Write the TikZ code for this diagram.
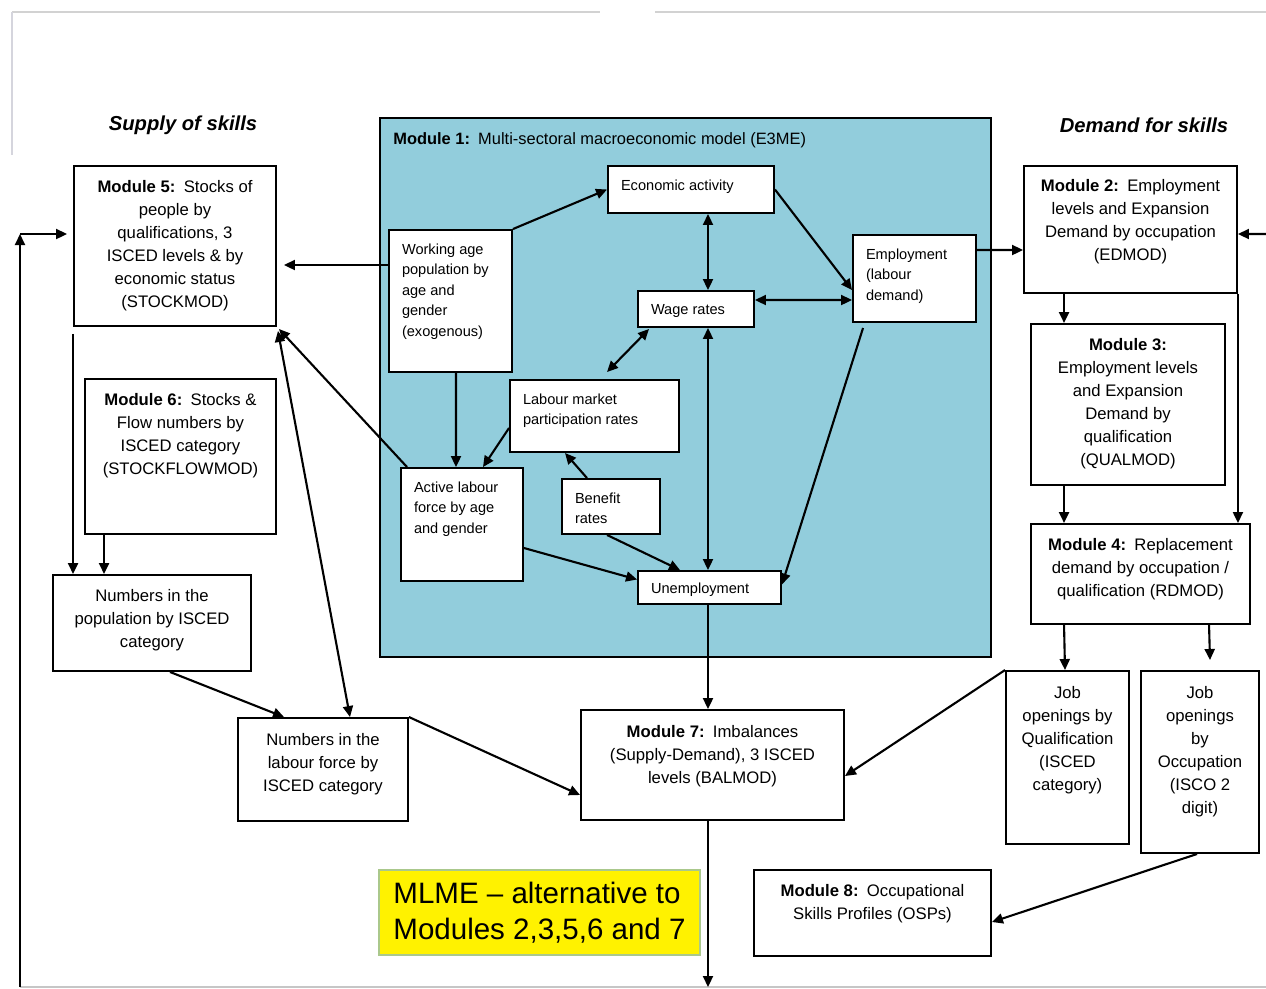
\documentclass[tikz,border=0pt]{standalone}
\usepackage{fontspec}
\setmainfont{Liberation Sans}
\usetikzlibrary{arrows.meta}

\newlength\pxu
\setlength\pxu{0.2mm}
% box text: text width (px), box height (px), top gap (px), content
\newcommand{\boxtxt}[4]{\begin{minipage}[c][#2\pxu][t]{#1\pxu}\vspace*{#3\pxu}#4\end{minipage}}

\definecolor{e3meblue}{RGB}{146,205,220}
\definecolor{mlmeedge}{RGB}{170,200,140}

\begin{document}
\begin{tikzpicture}[
  x=0.2mm, y=-0.2mm,
  mod/.style={draw, line width=1.1pt, fill=white, inner xsep=1.6mm, inner ysep=0pt, font=\fontsize{9.5}{13.1}\selectfont},
  sub/.style={draw, line width=1.1pt, fill=white, inner xsep=2.6mm, inner ysep=0pt, font=\fontsize{8.3}{11.7}\selectfont},
  frame/.style={draw, line width=1.3pt, fill=e3meblue, inner sep=0pt},
  side/.style={font=\fontsize{11.5}{14}\selectfont\bfseries\itshape},
  note/.style={draw=mlmeedge, line width=1.2pt, fill=yellow, inner sep=0pt, align=left, minimum width=64.2mm, minimum height=17mm, font=\fontsize{16.8}{20.5}\selectfont},
  arr/.style={-{Triangle[length=2.2mm, width=2mm]}, line width=1.2pt},
  darr/.style={{Triangle[length=2.2mm, width=2mm]}-{Triangle[length=2.2mm, width=2mm]}, line width=1.2pt}
]
\useasboundingbox (0,0) rectangle (1266,988);

% --- slide border ---
\draw[gray!35, line width=0.8pt] (12,12) -- (600,12);
\draw[gray!35, line width=0.8pt] (655,12) -- (1266,12);
\draw[blue!10!gray!30, line width=1pt] (12,12) -- (12,155);
\draw[gray!45, line width=0.8pt] (20,987) -- (1266,987);

% --- headings ---
\node[side] (supply) at (183,125) {Supply of skills};
\node[side] (demand) at (1144,125) {Demand for skills};

% --- module 1 (E3ME) ---
\node[frame, minimum width=122.2mm, minimum height=107.8mm] (e3me) at (685.5,387.5) {};
\node[anchor=west, inner sep=0pt, font=\fontsize{9.35}{11}\selectfont] (e3mettl) at (393,140)
  {\textbf{Module 1:}\enspace Multi-sectoral macroeconomic model (E3ME)};

\node[sub] (eco)   at (691,189.5) {\boxtxt{140}{47}{13.5}{\raggedright Economic activity}};
\node[sub] (wap)   at (450.5,301) {\boxtxt{97}{142}{13.5}{\raggedright Working age\\ population by\\ age and\\ gender\\ (exogenous)}};
\node[sub] (emp)   at (914.5,278.5) {\boxtxt{97}{87}{13.5}{\raggedright Employment\\ (labour\\ demand)}};
\node[sub] (wage)  at (696,309) {\boxtxt{90}{36}{13}{\raggedright Wage rates}};
\node[sub] (lmp)   at (594.5,416) {\boxtxt{143}{72}{13.5}{\raggedright Labour market\\ participation rates}};
\node[sub] (alf)   at (462,524.5) {\boxtxt{96}{113}{13.5}{\raggedright Active labour\\ force by age\\ and gender}};
\node[sub] (ben)   at (611,506.5) {\boxtxt{72}{55}{13.5}{\raggedright Benefit\\ rates}};
\node[sub] (unemp) at (709.5,587.5) {\boxtxt{117}{33}{11.5}{\raggedright Unemployment}};

\draw[arr]  (wap.north east) -- (eco.west);
\draw[darr] ([shift={(17,0)}]eco.south) -- ([shift={(12,0)}]wage.north);
\draw[arr]  (eco.east) -- ([shift={(0,11.5)}]emp.west);
\draw[darr] ([shift={(0,-9)}]wage.east) -- ([shift={(0,21.5)}]emp.west);
\draw[darr] ([shift={(12,1)}]wage.south west) -- ([shift={(12.5,-7)}]lmp.north);
\draw[arr]  ([shift={(5.5,0)}]wap.south) -- ([shift={(-6,0)}]alf.north);
\draw[arr]  ([shift={(0,12)}]lmp.west) -- ([shift={(21,0)}]alf.north);
\draw[arr]  ([shift={(-24,0)}]ben.north) -- ([shift={(-29.5,0)}]lmp.south);
\draw[arr]  ([shift={(-4,0)}]ben.south) -- ([shift={(-29.5,0)}]unemp.north);
\draw[arr]  ([shift={(0,23.5)}]alf.east) -- ([shift={(0,-8)}]unemp.west);
\draw[darr] ([shift={(12,0)}]wage.south) -- ([shift={(-1.5,0)}]unemp.north);
\draw[arr]  ([shift={(11,5)}]emp.south west) -- ([shift={(0,-3)}]unemp.east);

% --- supply side ---
\node[mod] (m5)   at (175,246) {\boxtxt{186}{160}{14}{\centering\textbf{Module 5:}\enspace Stocks of\\ people by\\ qualifications, 3\\ ISCED levels \& by\\ economic status\\ (STOCKMOD)}};
\node[mod] (m6)   at (180.5,456.5) {\boxtxt{175}{155}{14}{\centering\textbf{Module 6:}\enspace Stocks \&\\ Flow numbers by\\ ISCED category\\ (STOCKFLOWMOD)}};
\node[mod] (npop) at (152,623) {\boxtxt{182}{96}{14}{\centering Numbers in the\\ population by ISCED\\ category}};
\node[mod] (nlab) at (323,769.5) {\boxtxt{154}{103}{15}{\centering Numbers in the\\ labour force by\\ ISCED category}};
\node[mod] (m7)   at (712.5,765) {\boxtxt{247}{110}{15}{\centering\textbf{Module 7:}\enspace Imbalances\\ (Supply-Demand), 3 ISCED\\ levels (BALMOD)}};
\node[note] (mlme) at (539.5,912.5) {MLME \textendash{} alternative to\\ Modules 2,3,5,6 and 7};
\node[mod] (m8)   at (872.5,913) {\boxtxt{221}{86}{14}{\centering\textbf{Module 8:}\enspace Occupational\\ Skills Profiles (OSPs)}};

% --- demand side ---
\node[mod] (m2) at (1130.5,229.5) {\boxtxt{197}{127}{13}{\centering\textbf{Module 2:}\enspace Employment\\ levels and Expansion\\ Demand by occupation\\ (EDMOD)}};
\node[mod] (m3) at (1128,404.5) {\boxtxt{178}{161}{14}{\centering\textbf{Module 3:}\\ Employment levels\\ and Expansion\\ Demand by\\ qualification\\ (QUALMOD)}};
\node[mod] (m4) at (1140.5,574) {\boxtxt{203}{100}{14}{\centering\textbf{Module 4:}\enspace Replacement\\ demand by occupation /\\ qualification (RDMOD)}};
\node[mod] (jq) at (1067.5,757.5) {\boxtxt{107}{173}{15}{\centering Job\\ openings by\\ Qualification\\ (ISCED\\ category)}};
\node[mod] (jo) at (1200,762) {\boxtxt{102}{182}{15}{\centering Job\\ openings\\ by\\ Occupation\\ (ISCO 2\\ digit)}};

\coordinate (rt)   at (1266,234);
\coordinate (botl) at (20,987);
\coordinate (cornl) at (20,234);
\coordinate (botc) at (708,987);

% --- links ---
\draw[arr]  ([shift={(0,-36)}]wap.west) -- ([shift={(7,19)}]m5.east);
\draw[arr]  ([shift={(7,0)}]alf.north west) -- ([shift={(2,2)}]m5.south east);
\draw[darr] ([shift={(1,4)}]m5.south east) -- ([shift={(27,0)}]nlab.north);
\draw[arr]  ([shift={(0,7)}]m5.south west) -- ([shift={(21,0)}]npop.north west);
\draw[arr]  ([shift={(20,0)}]m6.south west) -- ([shift={(52,0)}]npop.north west);
\draw[arr]  ([shift={(18,0)}]npop.south) -- ([shift={(47,0)}]nlab.north west);
\draw[arr]  (nlab.north east) -- ([shift={(0,30)}]m7.west);
\draw[arr]  ([shift={(-1.5,0)}]unemp.south) -- ([shift={(-4.5,0)}]m7.north);
\draw[arr]  (jq.north west) -- ([shift={(0,11)}]m7.east);
\draw[arr]  ([shift={(-4.5,0)}]m7.south) -- (botc);
\draw[arr]  (botl) -- (cornl);
\draw[arr]  (cornl) -- ([shift={(-6,-12)}]m5.west);

\draw[arr]  ([shift={(0,-28.5)}]emp.east) -- ([shift={(0,20.5)}]m2.west);
\draw[arr]  (rt) -- ([shift={(0,4.5)}]m2.east);
\draw[arr]  ([shift={(41,0)}]m2.south west) -- ([shift={(34,0)}]m3.north west);
\draw[arr]  (m2.south east) -- ([shift={(-13,0)}]m4.north east);
\draw[arr]  ([shift={(34,0)}]m3.south west) -- ([shift={(34,0)}]m4.north west);
\draw[arr]  ([shift={(34,0)}]m4.south west) -- ([shift={(-2.5,0)}]jq.north);
\draw[arr]  ([shift={(179,0)}]m4.south west) -- ([shift={(10,-10)}]jo.north);
\draw[arr]  ([shift={(-3,0)}]jo.south) -- ([shift={(0,9)}]m8.east);
\end{tikzpicture}
\end{document}
